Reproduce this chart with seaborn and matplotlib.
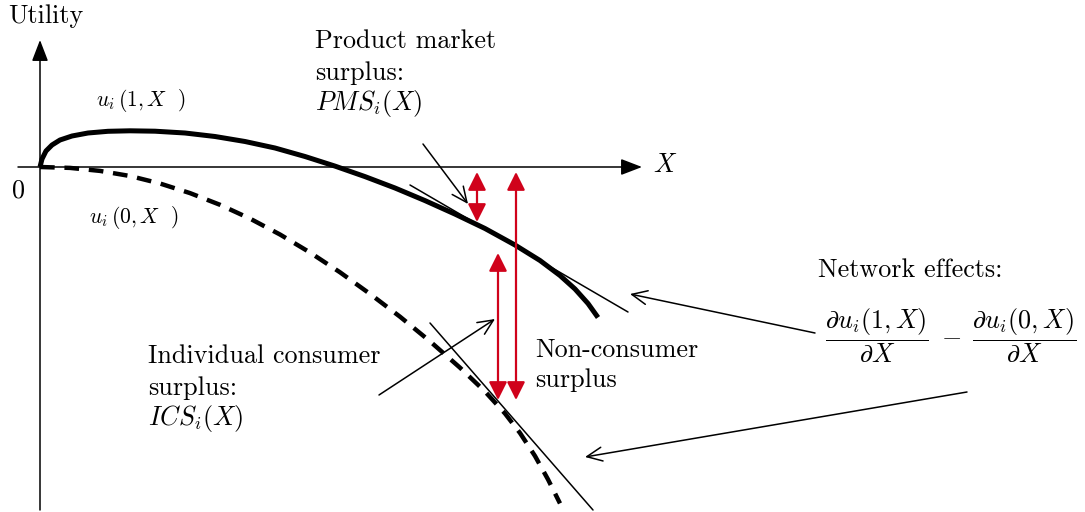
import pandas as pd
import seaborn as sns
import matplotlib.pyplot as plt

# ── Data (x to the right of the origin, y up from the X axis) ─────────────────
u1_x = [0, 2, 6, 12, 20, 32, 48, 68, 90, 115, 145, 175, 205, 235, 265, 295,
        325, 355, 385, 415, 445, 475, 500, 520, 535, 548, 558]
u1_y = [0, 8, 16, 22, 27, 31, 34, 35.7, 36.2, 35.8, 34, 30.5, 25.5, 19, 10.5,
        0.9, -9.6, -21, -33.6, -47.1, -61.5, -78, -93.5, -108.5, -122,
        -136.5, -150.5]

u0_x = [0, 30, 60, 90, 120, 150, 180, 210, 240, 270, 300, 330, 360, 390, 420,
        445, 465, 480, 495, 508, 520]
u0_y = [0, -0.9, -3.9, -9, -16.5, -26.1, -37.8, -51.6, -67.5, -85.5, -105.3,
        -126.9, -149.7, -174.3, -200.7, -224.5, -246.5, -266, -289, -312.4,
        -336.4]

# tangent lines (start, end)
tangent_u1 = [(370, -18), (588, -145)]
tangent_u0 = [(390, -156), (553, -343)]

# red surplus arrows: x, y top, y bottom
surplus_x = [437, 476, 458]
surplus_top = [-5, -5, -86]
surplus_bottom = [-55, -233, -233]

# pointer arrows: tail -> tip
pointer_tails = [(383, 23), (339, -228), (775, -166), (927, -225)]
pointer_tips = [(428, -37), (455, -152), (590, -127), (545, -290)]

# axes extent
x_axis = [(-22, 0), (602, 0)]
y_axis = [(0, -343), (0, 127)]

RED = "#D0021B"

# ── Style ─────────────────────────────────────────────────────────────────────
sns.set_style("white")
plt.rcParams["mathtext.fontset"] = "cm"
plt.rcParams["font.family"] = ["cmr10", "DejaVu Serif"]
plt.rcParams["axes.formatter.use_mathtext"] = True
plt.rcParams["text.color"] = "black"

fig = plt.figure(figsize=(10.85, 5.12), dpi=100)
ax = fig.add_axes([0, 0, 1, 1])
ax.set_xlim(-40, 1045)
ax.set_ylim(-345, 167)
ax.axis("off")

# axes with filled arrow heads
for (x0, y0), (x1, y1) in [x_axis, y_axis]:
    ax.annotate("", xy=(x1, y1), xytext=(x0, y0),
                arrowprops=dict(arrowstyle="-|>,head_length=1.3,head_width=0.5",
                                mutation_scale=10, color="black", lw=1.1,
                                shrinkA=0, shrinkB=0))

# utility curves
u1 = pd.DataFrame({"x": u1_x, "y": u1_y})
u0 = pd.DataFrame({"x": u0_x, "y": u0_y})
sns.lineplot(data=u1, x="x", y="y", sort=False, color="black", lw=3.6,
             solid_capstyle="butt", solid_joinstyle="round", ax=ax)
sns.lineplot(data=u0, x="x", y="y", sort=False, color="black", lw=3.2,
             linestyle=(0, (3.3, 2.2)), dash_capstyle="butt",
             dash_joinstyle="round", ax=ax)

# tangents
for (x0, y0), (x1, y1) in [tangent_u1, tangent_u0]:
    ax.plot([x0, x1], [y0, y1], color="black", lw=1.1)

# red double arrows
for x, yt, yb in zip(surplus_x, surplus_top, surplus_bottom):
    ax.annotate("", xy=(x, yt), xytext=(x, yb),
                arrowprops=dict(arrowstyle="<|-|>,head_length=1.1,head_width=0.55",
                                mutation_scale=10, color=RED, lw=1.6,
                                shrinkA=0, shrinkB=0))

# pointer arrows
for tail, tip in zip(pointer_tails, pointer_tips):
    ax.annotate("", xy=tip, xytext=tail,
                arrowprops=dict(arrowstyle="->,head_length=1.1,head_width=0.5",
                                mutation_scale=10, color="black", lw=1.1,
                                shrinkA=0, shrinkB=0))

# ── Text ──────────────────────────────────────────────────────────────────────
FS = 18.8
ax.text(-32, 144, "Utility", fontsize=FS, va="baseline")
ax.text(-28, -31, "0", fontsize=FS, va="baseline")
ax.text(613, -5, r"$X$", fontsize=FS, va="baseline")
ax.text(56, 61, r"$u_i\,(1, X\ \ )$", fontsize=15.5, va="baseline")
ax.text(49, -56, r"$u_i\,(0, X\ \ )$", fontsize=15.5, va="baseline")

for y, s in zip([119, 87, 57], ["Product market", "surplus:", r"$PMS_i(X)$"]):
    ax.text(275, y, s, fontsize=FS, va="baseline")
for y, s in zip([-196, -228, -258], ["Individual consumer", "surplus:", r"$ICS_i(X)$"]):
    ax.text(108, y, s, fontsize=FS, va="baseline")
for y, s in zip([-190, -220], ["Non-consumer", "surplus"]):
    ax.text(495, y, s, fontsize=FS, va="baseline")

ax.text(778, -110, "Network effects:", fontsize=FS, va="baseline")
ax.text(911, -169,
        r"$\dfrac{\partial u_i(1,X)}{\partial X}\;-\;\dfrac{\partial u_i(0,X)}{\partial X}$",
        fontsize=FS, ha="center", va="center")

plt.savefig("out.png", dpi=100)
plt.close()
